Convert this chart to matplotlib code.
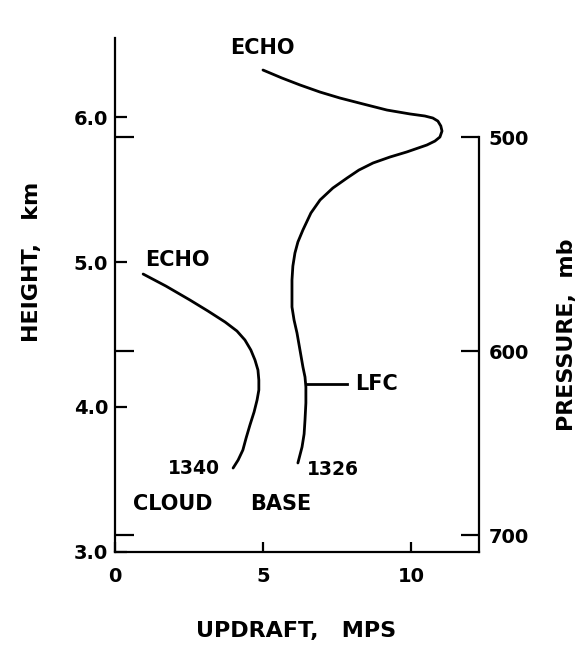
import matplotlib
matplotlib.use('Agg')
import numpy as np
import matplotlib.pyplot as plt

# updraft (m/s) vs height (km)
run_1340_updraft = [0.95, 1.72, 2.53, 3.14, 3.72, 4.12, 4.39, 4.59, 4.73, 4.83,
                    4.86, 4.86, 4.80, 4.70, 4.56, 4.43, 4.32, 4.16, 3.99]
run_1340_height = [4.917, 4.834, 4.738, 4.662, 4.586, 4.524, 4.462, 4.393, 4.324, 4.255,
                   4.186, 4.117, 4.048, 3.966, 3.876, 3.786, 3.703, 3.634, 3.579]

run_1326_updraft = [5.00, 5.64, 6.25, 6.93, 7.60, 8.38, 9.19, 9.97, 10.47, 10.74,
                    10.91, 11.01, 11.05, 10.98, 10.81, 10.54, 9.86, 9.29, 8.72, 8.24,
                    7.84, 7.36, 6.93, 6.62, 6.35, 6.18, 6.08, 6.01, 5.98, 5.98,
                    5.98, 6.05, 6.15, 6.25, 6.35, 6.42, 6.45, 6.45, 6.42, 6.39,
                    6.32, 6.18]
run_1326_height = [6.324, 6.269, 6.221, 6.172, 6.131, 6.090, 6.048, 6.021, 6.007, 5.993,
                   5.972, 5.938, 5.903, 5.862, 5.834, 5.807, 5.759, 5.724, 5.683, 5.634,
                   5.579, 5.510, 5.428, 5.338, 5.221, 5.138, 5.062, 4.972, 4.876, 4.779,
                   4.690, 4.600, 4.510, 4.393, 4.276, 4.207, 4.138, 4.028, 3.910, 3.814,
                   3.724, 3.614]

height_ticks = [3.0, 4.0, 5.0, 6.0]
height_labels = ['3.0', '4.0', '5.0', '6.0']
updraft_ticks = [0, 5, 10]
updraft_labels = ['0', '5', '10']
pressure_labels = ['500', '600', '700']
pressure_heights = [5.862, 4.386, 3.117]   # km where each pressure level sits
lfc_height = 4.159

FONT = 'DejaVu Sans'
plt.rcParams['font.family'] = FONT
plt.rcParams['font.weight'] = 'bold'

fig = plt.figure(figsize=(5.83, 6.45), dpi=100)
ax = fig.add_axes([0.1973, 0.1442, 0.8216 - 0.1973, 0.9411 - 0.1442])
ax.set_xlim(0, 12.30)
ax.set_ylim(3.0, 6.545)

line_kw = dict(color='black', lw=2.0, solid_joinstyle='round', solid_capstyle='round')
ax.plot(run_1340_updraft, run_1340_height, **line_kw)
ax.plot(run_1326_updraft, run_1326_height, **line_kw)
ax.plot([6.5, 7.84], [lfc_height, lfc_height], color='black', lw=2.0)

# spines
for s in ['top', 'right']:
    ax.spines[s].set_visible(False)
for s in ['left', 'bottom']:
    ax.spines[s].set_linewidth(1.6)

ax.set_xticks(updraft_ticks)
ax.set_xticklabels(updraft_labels)
ax.set_yticks(height_ticks)
ax.set_yticklabels(height_labels)
ax.set_yticks(pressure_heights, minor=True)
ax.tick_params(axis='x', direction='in', length=7, width=1.6, pad=11, labelsize=14)
ax.tick_params(axis='y', which='major', direction='in', length=8.5, width=1.6, pad=5, labelsize=14)
ax.tick_params(axis='y', which='minor', direction='in', length=14, width=1.6)
for lab in ax.get_xticklabels() + ax.get_yticklabels():
    lab.set_fontweight('bold')

# pressure axis on the right
ax2 = ax.twinx()
ax2.set_ylim(ax.get_ylim())
for s in ['top', 'left', 'bottom']:
    ax2.spines[s].set_visible(False)
ax2.spines['right'].set_linewidth(1.6)
ax2.spines['right'].set_bounds(3.0, pressure_heights[0])
ax2.set_yticks(pressure_heights)
ax2.set_yticklabels(pressure_labels)
ax2.tick_params(axis='y', direction='in', length=13, width=1.6, pad=7, labelsize=14)
for lab in ax2.get_yticklabels():
    lab.set_fontweight('bold')

# annotations
tk = dict(fontsize=15, fontweight='bold', va='center')
ax.text(3.89, 6.476, 'ECHO', ha='left', **tk)
ax.text(1.01, 5.014, 'ECHO', ha='left', **tk)
ax.text(3.55, 3.579, '1340', ha='right', **dict(tk, fontsize=13.5))
ax.text(6.49, 3.572, '1326', ha='left', **dict(tk, fontsize=13.5))
ax.text(0.61, 3.331, 'CLOUD', ha='left', **tk)
ax.text(4.56, 3.331, 'BASE', ha='left', **tk)
ax.text(8.11, lfc_height, 'LFC', ha='left', **tk)

fig.text(0.508, 0.0217, 'UPDRAFT,   MPS', ha='center', va='center', fontsize=16, fontweight='bold')
fig.text(0.055, 0.594, 'HEIGHT,   km', ha='center', va='center', rotation=90, fontsize=16, fontweight='bold')
fig.text(0.9726, 0.4806, 'PRESSURE,  mb', ha='center', va='center', rotation=90, fontsize=16, fontweight='bold')

fig.savefig('out.png', dpi=100)
